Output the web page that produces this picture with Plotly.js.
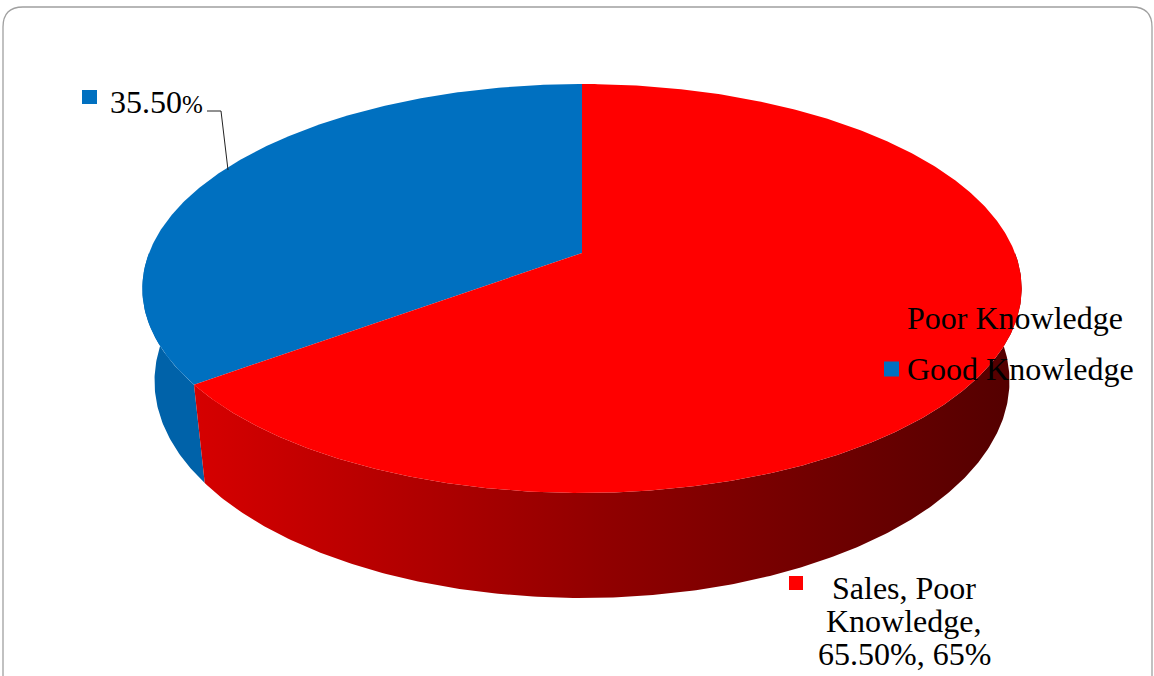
<!DOCTYPE html>
<html>
<head>
<meta charset="utf-8">
<script src="https://cdn.plot.ly/plotly-3.0.1.min.js"></script>
<style>html,body{margin:0;padding:0;background:#fff;}#chart{width:1154px;height:676px;}</style>
</head>
<body>
<div id="chart"></div>
<script>
// ---- data ----
const categories = ['Good Knowledge', 'Poor Knowledge'];
const values = [35.5, 65.5];
const sliceColors = ['#0070C0', '#FF0000'];
const legendOrder = ['Poor Knowledge', 'Good Knowledge'];
const dataLabels = ['35.50%', 'Sales, Poor<br>Knowledge,<br>65.50%, 65%'];

// ---- 3D pie geometry (pixel space) ----
const cx = 582, cy = 253, A = 433, B = 198.3, k = 0.1736;
const cyb = 343.4, Ab = 421, Bb = 210.4;
function pt(deg, bottom) {
  const t = deg * Math.PI / 180, c = Math.cos(t), s = Math.sin(t);
  const den = 1 + k * s;
  if (!bottom) return [cx + A * c / den, cy - B * s / den];
  return [cx + Ab * c / den, cyb - Bb * s / den];
}
const total = values.reduce((a, b) => a + b, 0);
const ranges = [];
let start = 90;
values.forEach(v => { const end = start + 360 * v / total; ranges.push([start, end]); start = end; });

const traces = [];
// sides
ranges.forEach((r, i) => {
  const lo = Math.max(r[0], 180), hi = Math.min(r[1], 360);
  if (hi <= lo) return;
  const xs = [], ys = [];
  for (let d = lo; d <= hi; d += 0.5) { const p = pt(d, false); xs.push(p[0]); ys.push(p[1]); }
  let p = pt(hi, false); xs.push(p[0]); ys.push(p[1]);
  p = pt(hi, true); xs.push(p[0]); ys.push(p[1]);
  for (let d = hi; d >= lo; d -= 0.5) { const q = pt(d, true); xs.push(q[0]); ys.push(q[1]); }
  p = pt(lo, true); xs.push(p[0]); ys.push(p[1]);
  xs.push(xs[0]); ys.push(ys[0]);
  const tr = {x: xs, y: ys, type: 'scatter', mode: 'lines', fill: 'toself',
    line: {width: 0, color: 'rgba(0,0,0,0)'}, hoverinfo: 'skip', showlegend: false};
  if (i === 0) tr.fillcolor = '#0062A9';
  else tr.fillgradient = {type: 'horizontal', colorscale: [[0, '#d60000'], [0.5, '#900000'], [1, '#520000']]};
  traces.push(tr);
});
// top faces
ranges.forEach((r, i) => {
  const xs = [cx], ys = [cy];
  for (let d = r[0]; d <= r[1]; d += 0.5) { const p = pt(d, false); xs.push(p[0]); ys.push(p[1]); }
  const p = pt(r[1], false); xs.push(p[0]); ys.push(p[1]);
  xs.push(cx); ys.push(cy);
  traces.push({x: xs, y: ys, type: 'scatter', mode: 'lines', fill: 'toself', fillcolor: sliceColors[i],
    line: {width: 0, color: 'rgba(0,0,0,0)'}, hoverinfo: 'skip', showlegend: false, name: categories[i]});
});

const font = 'Liberation Serif, Times New Roman, serif';
const fs = 32;
const annotations = [];
const shapes = [];
// border
shapes.push({type: 'path', xref: 'x', yref: 'y',
  path: 'M 3 680 L 3 27 Q 3 7 23 7 L 1132 7 Q 1152 7 1152 27 L 1152 680',
  line: {color: '#a0a0a0', width: 1.3}, fillcolor: 'rgba(0,0,0,0)'});
// legend (manual)
legendOrder.forEach((name, j) => {
  const idx = categories.indexOf(name);
  const yc = 318 + j * 51;
  shapes.push({type: 'rect', x0: 884, x1: 899, y0: yc - 7.5, y1: yc + 7.5, fillcolor: sliceColors[idx], line: {width: 0}});
  annotations.push({x: 905, y: yc, xanchor: 'left', yanchor: 'middle', text: name, showarrow: false,
    font: {family: font, size: fs, color: '#000'}});
});
// data label: Good Knowledge
shapes.push({type: 'rect', x0: 82, x1: 97, y0: 90, y1: 104, fillcolor: sliceColors[0], line: {width: 0}});
const lbl0 = dataLabels[0].replace('%', '<span style="font-size:25px">%</span>');
annotations.push({x: 108, y: 102, xanchor: 'left', yanchor: 'middle', text: lbl0, showarrow: false,
  font: {family: font, size: fs, color: '#000'}});
shapes.push({type: 'path', path: 'M 207 111 L 221 111 L 228 170', line: {color: '#222', width: 1}});
// data label: Poor Knowledge
shapes.push({type: 'rect', x0: 789, x1: 803, y0: 576, y1: 590, fillcolor: sliceColors[1], line: {width: 0}});
dataLabels[1].split('<br>').forEach((line, j) => {
  annotations.push({x: 904, y: 588 + j * 33, xanchor: 'center', yanchor: 'middle', text: line, showarrow: false,
    font: {family: font, size: fs, color: '#000'}});
});

const layout = {
  width: 1154, height: 676,
  margin: {l: 0, r: 0, t: 0, b: 0},
  paper_bgcolor: '#fff', plot_bgcolor: '#fff',
  xaxis: {range: [0, 1154], visible: false, fixedrange: true},
  yaxis: {range: [676, 0], visible: false, fixedrange: true},
  showlegend: false,
  shapes: shapes,
  annotations: annotations
};
Plotly.newPlot('chart', traces, layout, {displayModeBar: false, staticPlot: true});
</script>
</body>
</html>
